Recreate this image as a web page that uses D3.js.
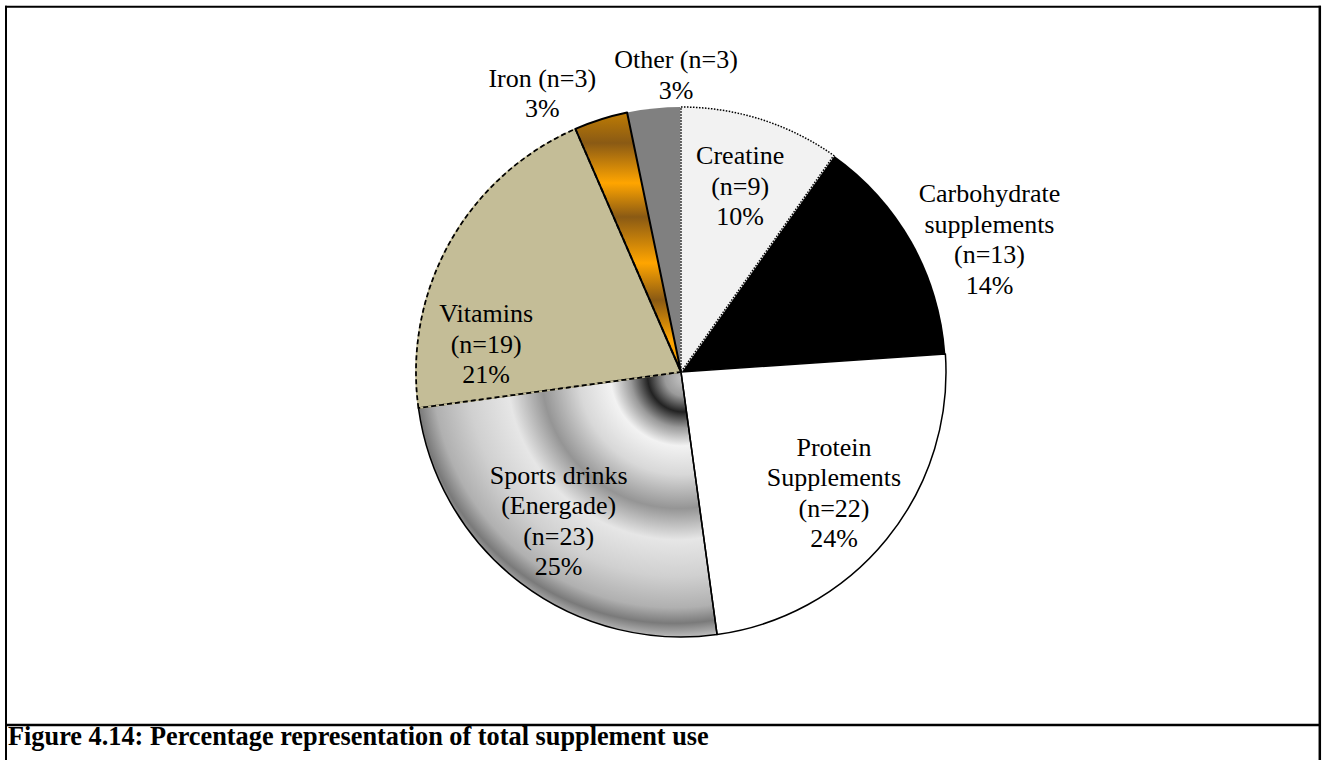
<!DOCTYPE html>
<html>
<head>
<meta charset="utf-8">
<script src="https://cdn.jsdelivr.net/npm/d3@7"></script>
<style>
  html, body { margin: 0; padding: 0; background: #fff; }
  svg { display: block; }
</style>
</head>
<body>
<svg id="chart" width="1322" height="760"></svg>
<script>
// slices, clockwise from 12 o'clock
const categories = ['Creatine', 'Carbohydrate\nsupplements', 'Protein\nSupplements', 'Sports drinks\n(Energade)', 'Vitamins', 'Iron', 'Other'];
const counts = [9, 13, 22, 23, 19, 3, 3];
const caption = 'Figure 4.14: Percentage representation of total supplement use';

// where each label sits: angle nudge (deg) from the slice middle, distance as a share of the radius
const labelLayout = [
  { nudge: 0, dist: 0.738 },
  { nudge: 6, dist: 1.268 },
  { nudge: -0.9, dist: 0.735 },
  { nudge: 2.3, dist: 0.726 },
  { nudge: -21.1, dist: 0.743 },
  { nudge: -8.8, dist: 1.177, inline: true },
  { nudge: 4.9, dist: 1.123, inline: true },
];

// fill / border of each slice; layer = order the borders are painted in
const sliceStyles = [
  { fill: '#f2f2f2', stroke: '#000', width: 1.5, dash: '1.5 1.5', under: '#f2f2f2', layer: 2 },
  { fill: '#000', stroke: 'none', layer: 0 },
  { fill: '#fff', stroke: '#000', width: 1.5, layer: 1 },
  { fill: 'url(#sportsFill)', stroke: '#000', width: 1.5, layer: 1 },
  { fill: '#c4bd97', stroke: '#000', width: 1.75, dash: '5 3', under: '#c4bd97', layer: 2 },
  { fill: 'url(#ironFill)', stroke: '#000', width: 2, layer: 3 },
  { fill: '#808080', stroke: 'none', layer: 0 },
];

const width = 1322;
const height = 760;
const cx = 681;
const cy = 372;
const radius = 265;
const fontSize = 26;
const lineHeight = 30.5;

const svg = d3.select('#chart')
  .attr('font-family', "'Liberation Serif', 'Times New Roman', serif");

svg.append('rect').attr('width', width).attr('height', height).attr('fill', '#fff');

const defs = svg.append('defs');

// gradients live in the pie group's coordinates (origin = pie centre)
const sports = defs.append('radialGradient')
  .attr('id', 'sportsFill')
  .attr('gradientUnits', 'userSpaceOnUse')
  .attr('cx', -8).attr('cy', -8).attr('r', radius + 10)
  .attr('fx', 4).attr('fy', 6);
[[0, '#c8c8c8'], [0.07, '#9a9a9a'], [0.13, '#222'], [0.19, '#9a9a9a'], [0.26, '#f2f2f2'],
  [0.37, '#d8d8d8'], [0.5, '#959595'], [0.62, '#e6e6e6'], [0.76, '#d0d0d0'], [0.88, '#b0b0b0'],
  [0.94, '#7a7a7a'], [1, '#c4c4c4']]
  .forEach(([o, c]) => sports.append('stop').attr('offset', o).attr('stop-color', c));

const iron = defs.append('linearGradient')
  .attr('id', 'ironFill')
  .attr('gradientUnits', 'userSpaceOnUse')
  .attr('x1', 0).attr('y1', -radius)
  .attr('x2', 0).attr('y2', 0);
[[0, '#c88200'], [0.136, '#8a5a14'], [0.287, '#ffa500'], [0.415, '#8a5a14'], [0.589, '#ffa500'],
  [0.728, '#8a5a14'], [0.879, '#ffa500'], [1, '#e89800']]
  .forEach(([o, c]) => iron.append('stop').attr('offset', o).attr('stop-color', c));

const pie = d3.pie().sort(null).value(d => d);
const arc = d3.arc().innerRadius(0).outerRadius(radius);
const arcs = pie(counts);
const total = d3.sum(counts);

const g = svg.append('g').attr('transform', `translate(${cx},${cy})`);

g.append('g')
  .selectAll('path')
  .data(arcs)
  .join('path')
  .attr('fill', (d, i) => sliceStyles[i].fill)
  .attr('d', arc);

const bordered = arcs
  .map((d, i) => ({ d, s: sliceStyles[i] }))
  .filter(o => o.s.stroke !== 'none')
  .sort((a, b) => a.s.layer - b.s.layer);

const borders = g.append('g').attr('fill', 'none').attr('stroke-linejoin', 'round');
bordered.forEach(({ d, s }) => {
  if (s.under) {
    borders.append('path')
      .attr('d', arc(d))
      .attr('stroke', s.under)
      .attr('stroke-width', s.width);
  }
  borders.append('path')
    .attr('d', arc(d))
    .attr('stroke', s.stroke)
    .attr('stroke-width', s.width)
    .attr('stroke-dasharray', s.dash || null);
});

const labels = g.append('g')
  .attr('font-size', fontSize)
  .attr('text-anchor', 'middle')
  .attr('fill', '#000');

arcs.forEach((d, i) => {
  const lay = labelLayout[i];
  const a = (d.startAngle + d.endAngle) / 2 + lay.nudge * Math.PI / 180;
  const x = Math.sin(a) * lay.dist * radius;
  const y = -Math.cos(a) * lay.dist * radius;
  const lines = categories[i].split('\n');
  const n = `(n=${counts[i]})`;
  if (lay.inline) lines[lines.length - 1] += ' ' + n;
  else lines.push(n);
  lines.push(`${Math.round(counts[i] / total * 100)}%`);

  const text = labels.append('text');
  lines.forEach((line, k) => {
    text.append('tspan')
      .attr('x', x)
      .attr('y', y + (k - (lines.length - 1) / 2) * lineHeight + fontSize * 0.35)
      .text(line);
  });
});

// frame around the figure and caption
const frame = svg.append('g').attr('stroke', '#000').attr('fill', 'none');
frame.append('line').attr('x1', 5).attr('x2', 1321).attr('y1', 6.7).attr('y2', 6.7).attr('stroke-width', 2);
frame.append('line').attr('x1', 6).attr('x2', 6).attr('y1', 5.7).attr('y2', height).attr('stroke-width', 2);
frame.append('line').attr('x1', 1319.8).attr('x2', 1319.8).attr('y1', 5.7).attr('y2', height).attr('stroke-width', 2.5);
frame.append('line').attr('x1', 5).attr('x2', 1321).attr('y1', 725).attr('y2', 725).attr('stroke-width', 2.5);

svg.append('text')
  .attr('x', 8)
  .attr('y', 745)
  .attr('font-size', 26.3)
  .attr('font-weight', 'bold')
  .text(caption);
</script>
</body>
</html>
